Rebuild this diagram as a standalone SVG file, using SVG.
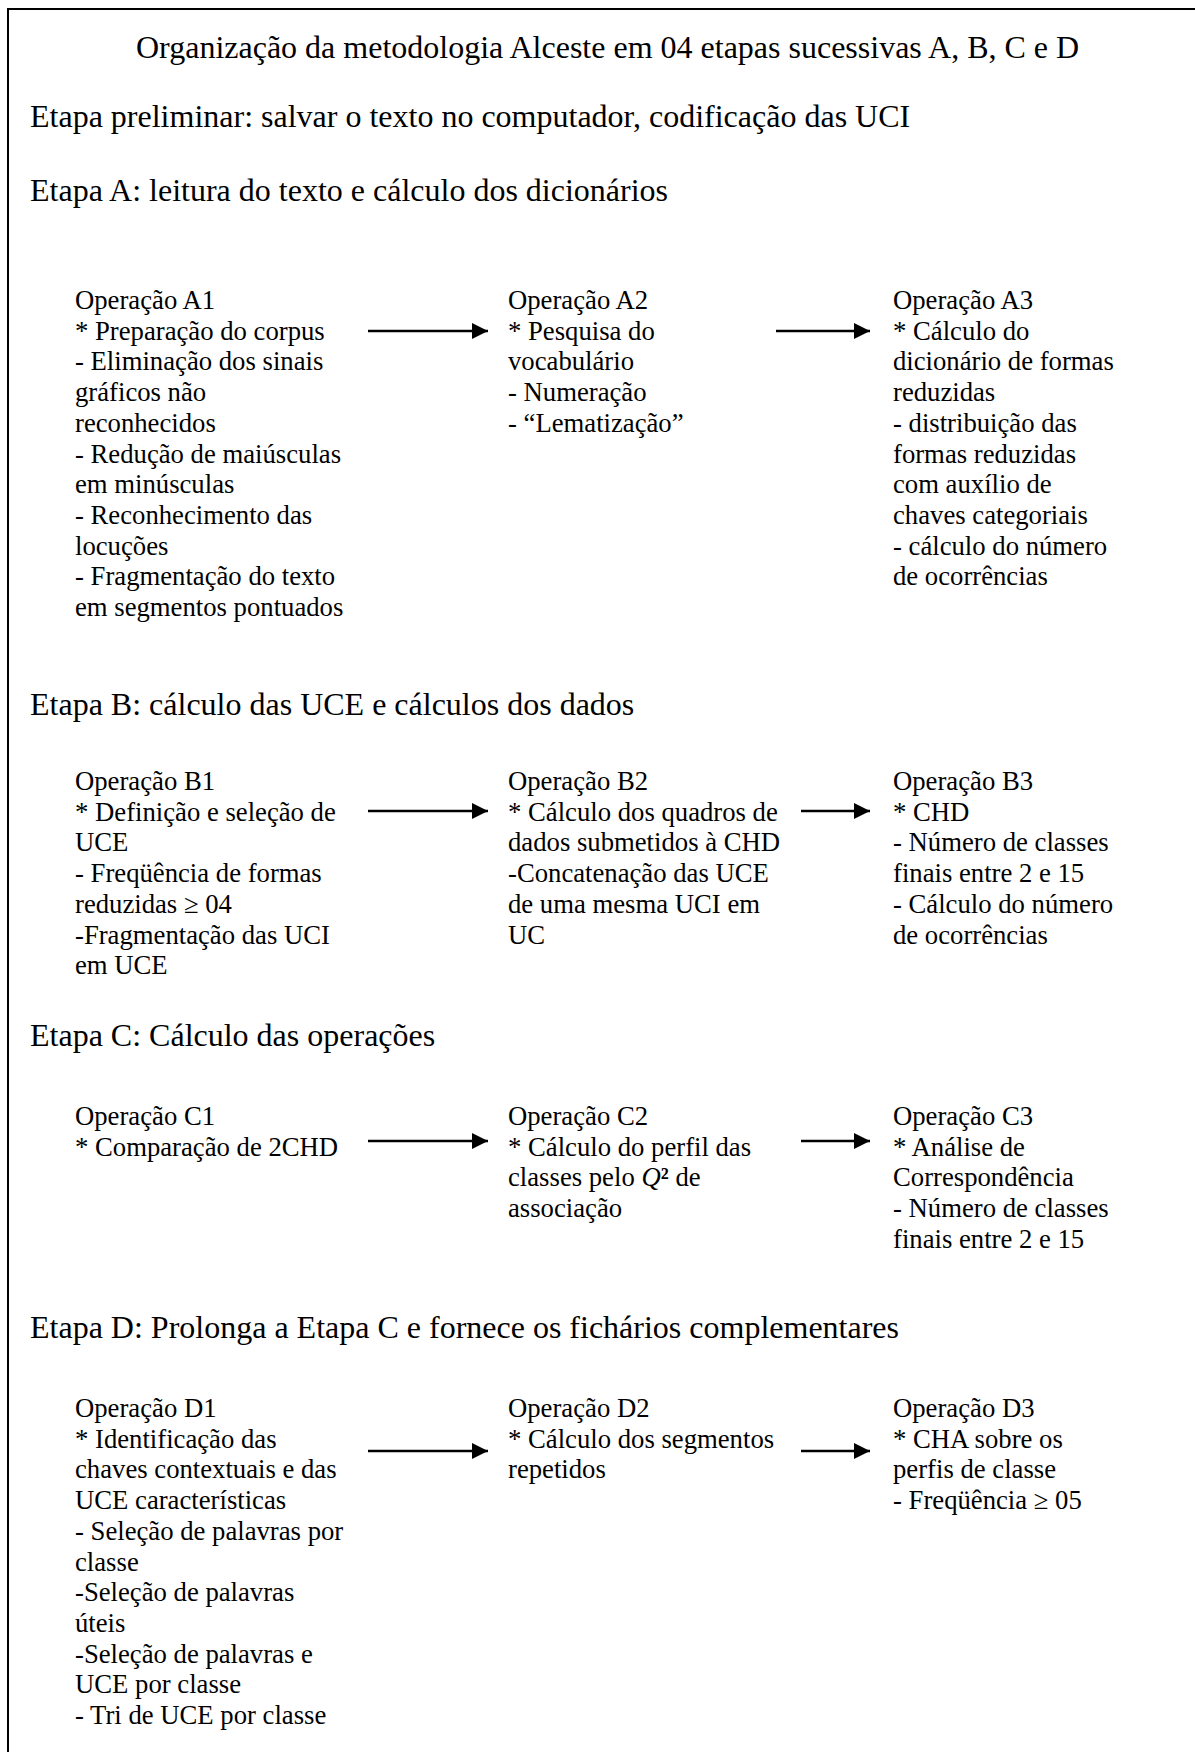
<svg xmlns="http://www.w3.org/2000/svg" width="1195" height="1752" viewBox="0 0 1195 1752">
<style>
.h{font-family:"Liberation Serif","Times New Roman",serif;font-size:32px;fill:#000}
.b{font-family:"Liberation Serif","Times New Roman",serif;font-size:26.7px;fill:#000}
.ln{stroke:#000;stroke-width:2.5;fill:none}
.fr{stroke:#000;stroke-width:2;fill:none}
</style>
<defs>
<marker id="ah" viewBox="0 0 10 10" refX="10" refY="5" markerWidth="8" markerHeight="6.4" orient="auto" markerUnits="strokeWidth">
<path d="M0,0 L10,5 L0,10 z" fill="#000"/>
</marker>
</defs>
<rect width="1195" height="1752" fill="#fff"/>
<path class="fr" d="M8,1752 V9 H1195"/>
<g id="headings">
<text class="h" x="136" y="58">Organização da metodologia Alceste em 04 etapas sucessivas A, B, C e D</text>
<text class="h" x="30" y="127">Etapa preliminar: salvar o texto no computador, codificação das UCI</text>
<text class="h" x="30" y="201">Etapa A: leitura do texto e cálculo dos dicionários</text>
<text class="h" x="30" y="715">Etapa B: cálculo das UCE e cálculos dos dados</text>
<text class="h" x="30" y="1046">Etapa C: Cálculo das operações</text>
<text class="h" x="30" y="1338">Etapa D: Prolonga a Etapa C e fornece os fichários complementares</text>
</g>
<g id="opA1"><text class="b" x="75" y="309"><tspan x="75">Operação A1</tspan><tspan x="75" dy="30.7">* Preparação do corpus</tspan><tspan x="75" dy="30.7">- Eliminação dos sinais</tspan><tspan x="75" dy="30.7">gráficos não</tspan><tspan x="75" dy="30.7">reconhecidos</tspan><tspan x="75" dy="30.7">- Redução de maiúsculas</tspan><tspan x="75" dy="30.7">em minúsculas</tspan><tspan x="75" dy="30.7">- Reconhecimento das</tspan><tspan x="75" dy="30.7">locuções</tspan><tspan x="75" dy="30.7">- Fragmentação do texto</tspan><tspan x="75" dy="30.7">em segmentos pontuados</tspan></text></g>
<g id="opA2"><text class="b" x="508" y="309"><tspan x="508">Operação A2</tspan><tspan x="508" dy="30.7">* Pesquisa do</tspan><tspan x="508" dy="30.7">vocabulário</tspan><tspan x="508" dy="30.7">- Numeração</tspan><tspan x="508" dy="30.7">- “Lematização”</tspan></text></g>
<g id="opA3"><text class="b" x="893" y="309"><tspan x="893">Operação A3</tspan><tspan x="893" dy="30.7">* Cálculo do</tspan><tspan x="893" dy="30.7">dicionário de formas</tspan><tspan x="893" dy="30.7">reduzidas</tspan><tspan x="893" dy="30.7">- distribuição das</tspan><tspan x="893" dy="30.7">formas reduzidas</tspan><tspan x="893" dy="30.7">com auxílio de</tspan><tspan x="893" dy="30.7">chaves categoriais</tspan><tspan x="893" dy="30.7">- cálculo do número</tspan><tspan x="893" dy="30.7">de ocorrências</tspan></text></g>
<g id="opB1"><text class="b" x="75" y="790"><tspan x="75">Operação B1</tspan><tspan x="75" dy="30.7">* Definição e seleção de</tspan><tspan x="75" dy="30.7">UCE</tspan><tspan x="75" dy="30.7">- Freqüência de formas</tspan><tspan x="75" dy="30.7">reduzidas ≥ 04</tspan><tspan x="75" dy="30.7">-Fragmentação das UCI</tspan><tspan x="75" dy="30.7">em UCE</tspan></text></g>
<g id="opB2"><text class="b" x="508" y="790"><tspan x="508">Operação B2</tspan><tspan x="508" dy="30.7">* Cálculo dos quadros de</tspan><tspan x="508" dy="30.7">dados submetidos à CHD</tspan><tspan x="508" dy="30.7">-Concatenação das UCE</tspan><tspan x="508" dy="30.7">de uma mesma UCI em</tspan><tspan x="508" dy="30.7">UC</tspan></text></g>
<g id="opB3"><text class="b" x="893" y="790"><tspan x="893">Operação B3</tspan><tspan x="893" dy="30.7">* CHD</tspan><tspan x="893" dy="30.7">- Número de classes</tspan><tspan x="893" dy="30.7">finais entre 2 e 15</tspan><tspan x="893" dy="30.7">- Cálculo do número</tspan><tspan x="893" dy="30.7">de ocorrências</tspan></text></g>
<g id="opC1"><text class="b" x="75" y="1125"><tspan x="75">Operação C1</tspan><tspan x="75" dy="30.7">* Comparação de 2CHD</tspan></text></g>
<g id="opC2"><text class="b" x="508" y="1125"><tspan x="508">Operação C2</tspan><tspan x="508" dy="30.7">* Cálculo do perfil das</tspan><tspan x="508" dy="30.7">classes pelo <tspan font-style="italic">Q</tspan><tspan font-weight="bold">²</tspan> de</tspan><tspan x="508" dy="30.7">associação</tspan></text></g>
<g id="opC3"><text class="b" x="893" y="1125"><tspan x="893">Operação C3</tspan><tspan x="893" dy="30.7">* Análise de</tspan><tspan x="893" dy="30.7">Correspondência</tspan><tspan x="893" dy="30.7">- Número de classes</tspan><tspan x="893" dy="30.7">finais entre 2 e 15</tspan></text></g>
<g id="opD1"><text class="b" x="75" y="1417"><tspan x="75">Operação D1</tspan><tspan x="75" dy="30.7">* Identificação das</tspan><tspan x="75" dy="30.7">chaves contextuais e das</tspan><tspan x="75" dy="30.7">UCE características</tspan><tspan x="75" dy="30.7">- Seleção de palavras por</tspan><tspan x="75" dy="30.7">classe</tspan><tspan x="75" dy="30.7">-Seleção de palavras</tspan><tspan x="75" dy="30.7">úteis</tspan><tspan x="75" dy="30.7">-Seleção de palavras e</tspan><tspan x="75" dy="30.7">UCE por classe</tspan><tspan x="75" dy="30.7">- Tri de UCE por classe</tspan></text></g>
<g id="opD2"><text class="b" x="508" y="1417"><tspan x="508">Operação D2</tspan><tspan x="508" dy="30.7">* Cálculo dos segmentos</tspan><tspan x="508" dy="30.7">repetidos</tspan></text></g>
<g id="opD3"><text class="b" x="893" y="1417"><tspan x="893">Operação D3</tspan><tspan x="893" dy="30.7">* CHA sobre os</tspan><tspan x="893" dy="30.7">perfis de classe</tspan><tspan x="893" dy="30.7">- Freqüência ≥ 05</tspan></text></g>
<g id="connectors">
<line class="ln" x1="368" y1="331" x2="488" y2="331" marker-end="url(#ah)"/>
<line class="ln" x1="776" y1="331" x2="870" y2="331" marker-end="url(#ah)"/>
<line class="ln" x1="368" y1="811" x2="488" y2="811" marker-end="url(#ah)"/>
<line class="ln" x1="801" y1="811" x2="870" y2="811" marker-end="url(#ah)"/>
<line class="ln" x1="368" y1="1141" x2="488" y2="1141" marker-end="url(#ah)"/>
<line class="ln" x1="801" y1="1141" x2="870" y2="1141" marker-end="url(#ah)"/>
<line class="ln" x1="368" y1="1451" x2="488" y2="1451" marker-end="url(#ah)"/>
<line class="ln" x1="801" y1="1451" x2="870" y2="1451" marker-end="url(#ah)"/>
</g>
</svg>
